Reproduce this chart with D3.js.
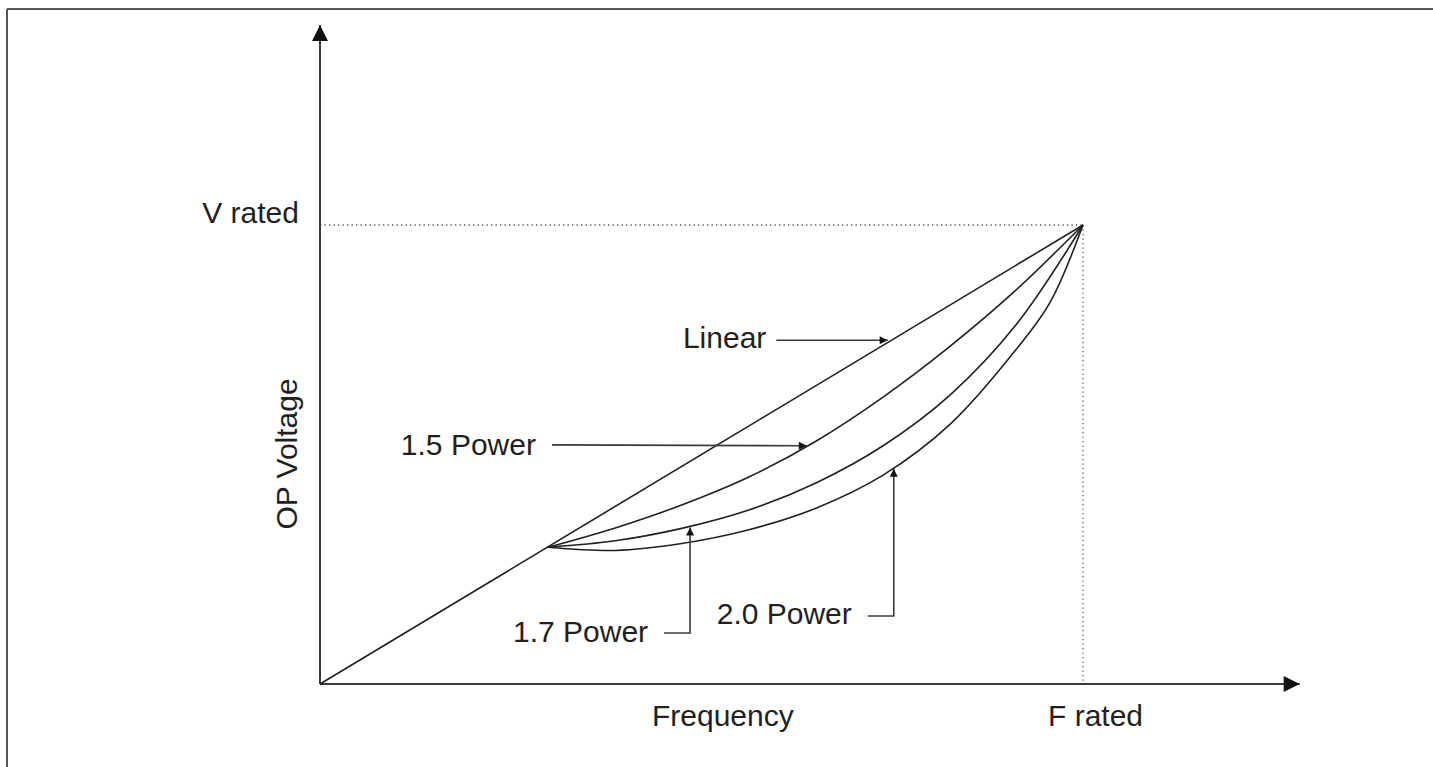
<!DOCTYPE html>
<html lang="en">
<head>
	<meta charset="utf-8">
	<title>V/f curves</title>
	<style type="text/css">
		html, body {
			margin: 0;
			padding: 0;
			background: #fff;
			overflow: hidden;
		}
		svg {
			display: block;
		}
		text {
			font-family: "Liberation Sans", Arial, sans-serif;
			font-size: 30px;
			fill: #231f20;
		}
		.curve {
			fill: none;
			stroke: #231f20;
			stroke-width: 1.6px;
		}
		.axis-line {
			stroke: #3a3a3a;
			stroke-width: 2px;
		}
		.frame {
			stroke: #555;
			stroke-width: 2px;
		}
		.guide {
			stroke: #555;
			stroke-width: 1.3px;
			stroke-dasharray: 1.3, 3.2;
		}
		.pointer {
			fill: none;
			stroke: #3a3a3a;
			stroke-width: 1.6px;
		}
	</style>
</head>
<body>
<div id="chart"></div>
<script src="https://cdn.jsdelivr.net/npm/d3@7"></script>
<script type="text/javascript">
// values are in % of rated frequency / rated voltage
var freqAxisMax = 128.4;
var voltAxisMax = 143.6;

var linearPts = [[0, 0], [100, 100]];
var power15Pts = [[29.9, 29.8], [38.7, 34.0], [47.4, 39.0], [56.2, 45.1], [65.0, 52.9], [73.8, 62.5], [82.6, 73.6], [91.2, 85.8], [100, 100]];
var power17Pts = [[29.9, 29.8], [38.7, 31.2], [47.4, 33.9], [56.2, 37.9], [65.0, 43.8], [73.8, 51.9], [82.6, 63.0], [91.2, 78.2], [100, 100]];
var power20Pts = [[29.9, 29.8], [38.7, 29.1], [47.4, 30.6], [56.2, 33.6], [65.0, 38.3], [73.8, 45.5], [82.6, 56.6], [91.2, 72.8], [95.7, 83.2], [100, 100]];

var curveNames = ["Linear", "1.5 Power", "1.7 Power", "2.0 Power"];
var curvePts = [linearPts, power15Pts, power17Pts, power20Pts];

// label anchor (text end, baseline), pointer tail, optional elbow, pointer tip
var labelEnd = [[58.5, 73.2], [28.3, 49.9], [43.0, 9.2], [69.7, 13.1]];
var pointerTail = [[59.8, 74.9], [30.4, 52.1], [45.1, 11.1], [71.8, 14.8]];
var pointerTip = [[74.4, 74.9], [63.8, 51.9], [48.5, 34.1], [75.2, 46.9]];
var pointerElbow = [null, null, true, true];

var width = 1433, height = 767;

var x = d3.scaleLinear().domain([0, 100]).range([320, 1083]);
var y = d3.scaleLinear().domain([0, 100]).range([684, 225]);

var svg = d3.select("#chart")
	.append("svg")
	.attr("width", width)
	.attr("height", height);

var defs = svg.append("defs");
defs.append("marker")
	.attr("id", "bigArrow")
	.attr("viewBox", "0 -5 10 10")
	.attr("refX", 10)
	.attr("refY", 0)
	.attr("orient", "auto")
	.attr("markerUnits", "userSpaceOnUse")
	.attr("markerWidth", 18)
	.attr("markerHeight", 16)
	.append("path")
	.attr("d", "M0,-5L10,0L0,5Z")
	.attr("fill", "#111");
defs.append("marker")
	.attr("id", "smallArrow")
	.attr("viewBox", "0 -5 10 10")
	.attr("refX", 10)
	.attr("refY", 0)
	.attr("orient", "auto")
	.attr("markerUnits", "userSpaceOnUse")
	.attr("markerWidth", 10)
	.attr("markerHeight", 8)
	.append("path")
	.attr("d", "M0,-5L10,0L0,5Z")
	.attr("fill", "#111");

// frame: only its top and left edges are in the picture
svg.append("line").attr("class", "frame")
	.attr("x1", 7).attr("y1", 9)
	.attr("x2", width).attr("y2", 9);
svg.append("line").attr("class", "frame")
	.attr("x1", 7).attr("y1", 9)
	.attr("x2", 7).attr("y2", height);

// dotted guides to the rated point
svg.append("line").attr("class", "guide")
	.attr("x1", x(0)).attr("y1", y(100))
	.attr("x2", x(100)).attr("y2", y(100));
svg.append("line").attr("class", "guide")
	.attr("x1", x(100)).attr("y1", y(100))
	.attr("x2", x(100)).attr("y2", y(0));

// axes
svg.append("line").attr("class", "axis-line")
	.attr("x1", x(0)).attr("y1", y(0))
	.attr("x2", x(freqAxisMax)).attr("y2", y(0))
	.attr("marker-end", "url(#bigArrow)");
svg.append("line").attr("class", "axis-line")
	.attr("x1", x(0)).attr("y1", y(0))
	.attr("x2", x(0)).attr("y2", y(voltAxisMax))
	.attr("marker-end", "url(#bigArrow)");

// curves
var line = d3.line()
	.x(function (d) { return x(d[0]); })
	.y(function (d) { return y(d[1]); })
	.curve(d3.curveCatmullRom.alpha(0.5));

svg.append("g")
	.selectAll("path")
	.data(curvePts)
	.enter()
	.append("path")
	.attr("class", "curve")
	.attr("d", line);

// pointers
svg.append("g")
	.selectAll("path")
	.data(curveNames)
	.enter()
	.append("path")
	.attr("class", "pointer")
	.attr("marker-end", "url(#smallArrow)")
	.attr("d", function (d, i) {
		var t = pointerTail[i], p = pointerTip[i];
		if (pointerElbow[i]) {
			return "M" + x(t[0]) + "," + y(t[1]) + "L" + x(p[0]) + "," + y(t[1]) + "L" + x(p[0]) + "," + y(p[1]);
		}
		return "M" + x(t[0]) + "," + y(t[1]) + "L" + x(p[0]) + "," + y(p[1]);
	});

svg.append("g")
	.selectAll("text")
	.data(curveNames)
	.enter()
	.append("text")
	.attr("text-anchor", "end")
	.attr("x", function (d, i) { return x(labelEnd[i][0]); })
	.attr("y", function (d, i) { return y(labelEnd[i][1]); })
	.text(function (d) { return d; });

// axis labels
svg.append("text")
	.attr("x", 652)
	.attr("y", y(0) + 42)
	.text("Frequency");
svg.append("text")
	.attr("x", x(100) - 35)
	.attr("y", y(0) + 42)
	.text("F rated");
svg.append("text")
	.attr("text-anchor", "end")
	.attr("x", x(0) - 21)
	.attr("y", y(100) - 2)
	.text("V rated");
svg.append("text")
	.attr("text-anchor", "middle")
	.attr("transform", "translate(297,454) rotate(-90)")
	.text("OP Voltage");
</script>
</body>
</html>
